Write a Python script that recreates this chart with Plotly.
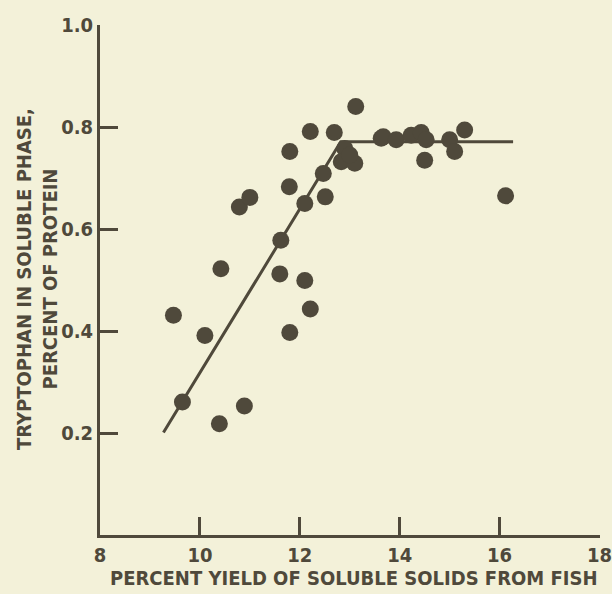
import plotly.graph_objects as go

# Data
yield_pct = [9.47, 9.65, 10.10, 10.39, 10.89, 11.80, 12.21, 10.42, 11.60, 12.10,
             11.62, 10.79, 11.00, 12.10, 12.51, 11.79, 12.47, 11.80, 12.21, 12.69,
             13.12, 12.90, 12.83, 13.10, 13.00, 13.63, 13.67, 13.93, 14.23, 14.43,
             14.53, 14.50, 15.00, 15.10, 15.30, 16.12]
tryptophan = [0.431, 0.261, 0.391, 0.218, 0.253, 0.397, 0.443, 0.522, 0.512, 0.499,
              0.578, 0.643, 0.662, 0.650, 0.663, 0.683, 0.709, 0.752, 0.791, 0.789,
              0.840, 0.758, 0.732, 0.729, 0.745, 0.778, 0.781, 0.775, 0.784, 0.789,
              0.775, 0.735, 0.775, 0.752, 0.794, 0.665]

fit_x = [9.27, 12.82, 16.27]
fit_y = [0.201, 0.771, 0.771]

x_ticks = [8, 10, 12, 14, 16, 18]
x_tick_labels = ["8", "10", "12", "14", "16", "18"]
y_ticks = [0.2, 0.4, 0.6, 0.8, 1.0]
y_tick_labels = ["0.2", "0.4", "0.6", "0.8", "1.0"]

ink = "#4f493b"
bg = "#F3F1D9"
font_family = "DejaVu Sans Condensed, Liberation Sans Narrow, sans-serif"

fig = go.Figure()
fig.add_trace(go.Scatter(x=fit_x, y=fit_y, mode="lines",
                         line=dict(color=ink, width=3), hoverinfo="skip"))
fig.add_trace(go.Scatter(x=yield_pct, y=tryptophan, mode="markers",
                         marker=dict(color=ink, size=17, line=dict(width=0))))

fig.update_layout(
    template="none",
    width=612, height=594,
    paper_bgcolor=bg, plot_bgcolor=bg,
    showlegend=False,
    margin=dict(l=100, r=12, t=25, b=59),
    font=dict(family=font_family, color=ink, size=20, weight="bold"),
    xaxis=dict(range=[8, 18.01], tickmode="array", tickvals=x_ticks,
               ticktext=x_tick_labels,
               showline=True, linecolor=ink, linewidth=3, showgrid=False,
               zeroline=False, ticks="inside", ticklen=18, tickwidth=3,
               tickcolor=ink, tickfont=dict(size=20),
               ticklabeloverflow="allow"),
    yaxis=dict(range=[0, 1.0], tickmode="array", tickvals=y_ticks,
               ticktext=y_tick_labels,
               showline=True, linecolor=ink, linewidth=3, showgrid=False,
               zeroline=False, ticks="inside", ticklen=18, tickwidth=3,
               tickcolor=ink, tickfont=dict(size=20)),
)

fig.add_annotation(text="PERCENT YIELD OF SOLUBLE SOLIDS FROM FISH",
                   xref="paper", yref="paper", x=0.506, y=-0.084,
                   xanchor="center", yanchor="middle", showarrow=False,
                   font=dict(size=20))
fig.add_annotation(text="TRYPTOPHAN IN SOLUBLE PHASE,<br>PERCENT OF PROTEIN",
                   xref="paper", yref="paper", x=-0.126, y=0.502,
                   xanchor="center", yanchor="middle", textangle=-90,
                   showarrow=False, font=dict(size=20))

fig.write_html("out.html")
